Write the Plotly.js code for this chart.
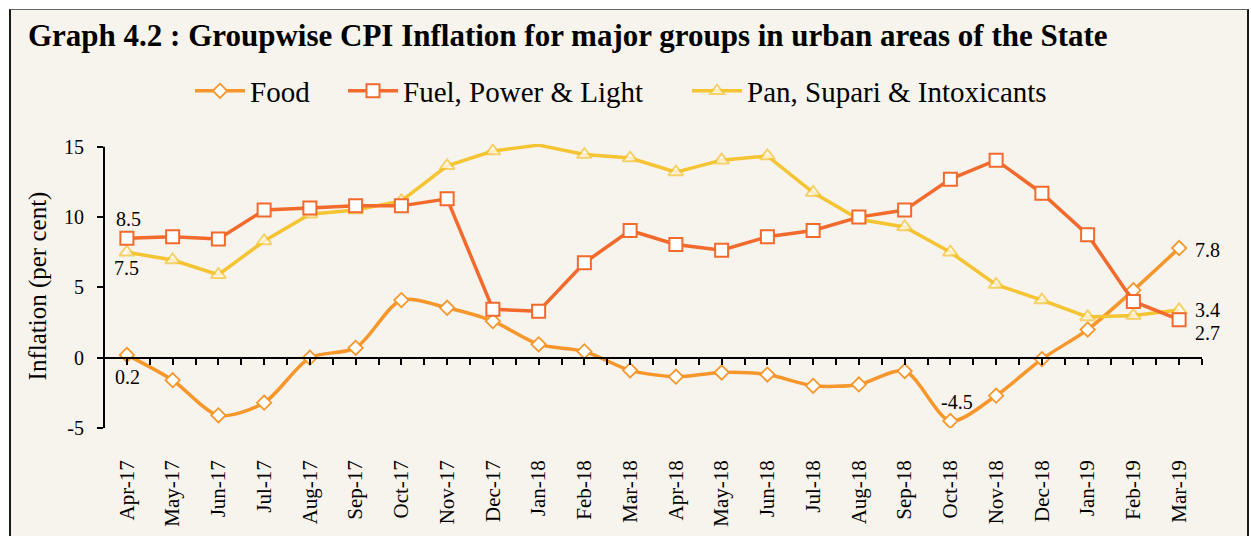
<!DOCTYPE html>
<html>
<head>
<meta charset="utf-8">
<script src="https://cdn.plot.ly/plotly-3.0.1.min.js"></script>
<style>
  html, body { margin: 0; padding: 0; background: #ffffff; }
  #frame { position: absolute; left: 9px; top: 9px; width: 1236px; height: 560px;
           background: #F7F3ED; border: 2px solid #1a1a1a; border-top: 1px solid #666; }
  #chart { position: absolute; left: 0; top: 0; width: 1251px; height: 536px; }
</style>
</head>
<body>
<div id="frame"></div>
<div id="chart"></div>
<script>
const months = ['Apr-17','May-17','Jun-17','Jul-17','Aug-17','Sep-17','Oct-17','Nov-17','Dec-17',
  'Jan-18','Feb-18','Mar-18','Apr-18','May-18','Jun-18','Jul-18','Aug-18','Sep-18','Oct-18',
  'Nov-18','Dec-18','Jan-19','Feb-19','Mar-19'];
const food = [0.2,-1.6,-4.1,-3.2,0.0,0.7,4.1,3.55,2.6,0.95,0.45,-0.9,-1.35,-1.05,-1.2,-2.0,
  -1.9,-0.95,-4.5,-2.7,-0.1,2.0,4.8,7.8];
const fuel = [8.5,8.6,8.45,10.5,10.65,10.8,10.8,11.3,3.45,3.3,6.75,9.05,8.05,7.65,8.6,9.05,
  10.0,10.5,12.7,14.05,11.7,8.75,4.0,2.7];
const pan = [7.5,6.95,5.9,8.3,10.2,10.5,11.15,13.65,14.7,15.12,14.45,14.2,13.2,14.05,14.35,11.75,
  9.85,9.3,7.5,5.2,4.1,2.9,3.0,3.4];
const seriesNames = ['Food', 'Fuel, Power & Light', 'Pan, Supari & Intoxicants'];
const yTickVals = [-5, 0, 5, 10, 15];
const yTickText = ['-5', '0', '5', '10', '15'];

const idx = months.map((_, i) => i);
const C_FOOD = '#F7962B', C_FUEL = '#F26A2C', C_PAN = '#F5C433';
const FONT = 'Liberation Serif, Times New Roman, serif';
const YMIN = -5, YMAX = 15.2;

// Pan series has no marker drawn at Jan-18 in the reference
const panSizes = months.map(m => m === 'Jan-18' ? 0 : 13);

const foodTrace = { x: idx, y: food, name: seriesNames[0], type: 'scatter', mode: 'lines+markers',
    legend: 'legend',
    line: { color: C_FOOD, width: 3.5, shape: 'spline', smoothing: 0.8 },
    marker: { symbol: 'diamond', size: 11, color: '#ffffff', line: { color: C_FOOD, width: 1.8 } } };
const fuelTrace = { x: idx, y: fuel, name: seriesNames[1], type: 'scatter', mode: 'lines+markers',
    legend: 'legend2',
    line: { color: C_FUEL, width: 3.5 },
    marker: { symbol: 'square', size: 13, color: '#ffffff', line: { color: C_FUEL, width: 2 } } };
const panTrace = { x: idx, y: pan, name: seriesNames[2], type: 'scatter', mode: 'lines+markers',
    legend: 'legend3',
    line: { color: C_PAN, width: 3.5 },
    marker: { symbol: 'triangle-up', size: panSizes, color: '#ffffff', line: { color: C_PAN, width: 2 } } };
// invisible carrier for the bottom category-label axis
const labelCarrier = { x: idx, y: food, xaxis: 'x2', yaxis: 'y', type: 'scatter', mode: 'markers',
    marker: { opacity: 0 }, showlegend: false, hoverinfo: 'skip' };

const last = months.length - 1;
const lab = (x, y, xs, ys) => ({ x: x, y: y, xref: 'x', yref: 'y', text: y.toFixed(1),
  showarrow: false, xshift: xs, yshift: ys, font: { family: FONT, size: 20, color: '#000' } });
const oct18 = months.indexOf('Oct-18');

const annotations = [
  lab(0, fuel[0], 2, 19),
  lab(0, pan[0], 0, -16),
  lab(0, food[0], 1, -22),
  lab(oct18, food[oct18], 7, 19),
  lab(last, food[last], 28, -2),
  lab(last, pan[last], 28, 0),
  lab(last, fuel[last], 28, -13)
];

const PW = 1098, PH = 284;
const legFont = { family: FONT, size: 29, color: '#000' };
const legY = 1 + (144 - 91) / PH;
const mkLeg = px => ({ orientation: 'h', x: (px - 104) / PW, xanchor: 'left', y: legY, yanchor: 'middle',
  font: legFont, bgcolor: 'rgba(0,0,0,0)', itemwidth: 50 });

const layout = {
  width: 1251, height: 536,
  paper_bgcolor: 'rgba(0,0,0,0)', plot_bgcolor: 'rgba(0,0,0,0)',
  margin: { l: 104, r: 49, t: 144, b: 108 },
  font: { family: FONT, color: '#000' },
  title: { text: 'Graph 4.2 : Groupwise CPI Inflation for major groups in urban areas of the State',
    x: 28 / 1251, xanchor: 'left', xref: 'container', y: 1 - 35 / 536, yanchor: 'middle', yref: 'container',
    font: { family: FONT, size: 31, weight: 'bold', color: '#000' } },
  showlegend: true,
  legend: mkLeg(190),
  legend2: mkLeg(343),
  legend3: mkLeg(687),
  xaxis: { type: 'linear', range: [-0.5, 23.5], anchor: 'free', position: (0 - YMIN) / (YMAX - YMIN),
    showline: true, linecolor: '#000', linewidth: 2, showgrid: false, zeroline: false,
    tickmode: 'linear', tick0: -0.5, dtick: 0.5, ticks: 'outside', ticklen: 6, tickwidth: 2,
    tickcolor: '#000', showticklabels: false, fixedrange: true },
  xaxis2: { type: 'linear', range: [-0.5, 23.5], overlaying: 'x', anchor: 'y', side: 'bottom',
    showline: false, showgrid: false, zeroline: false, ticks: '',
    tickmode: 'array', tickvals: idx, ticktext: months, tickangle: -90, ticklabelstandoff: 27,
    tickfont: { family: FONT, size: 21, color: '#000' } },
  yaxis: { range: [YMIN, YMAX], tickmode: 'array', tickvals: yTickVals, ticktext: yTickText,
    showline: false, ticks: 'outside', ticklen: 6, tickwidth: 2, tickcolor: '#000', showgrid: false,
    zeroline: false, ticklabelstandoff: 9, tickfont: { family: FONT, size: 20, color: '#000' },
    title: { text: 'Inflation (per cent)', standoff: 10, font: { family: FONT, size: 25, color: '#000' } } },
  shapes: [
    { type: 'line', xref: 'paper', yref: 'y', x0: 0, x1: 0, y0: YMIN, y1: 15,
      line: { color: '#000', width: 2 }, layer: 'below' }
  ],
  annotations: annotations
};

Plotly.newPlot('chart', [labelCarrier, foodTrace, panTrace, fuelTrace], layout,
  { displayModeBar: false, staticPlot: true });
</script>
</body>
</html>
